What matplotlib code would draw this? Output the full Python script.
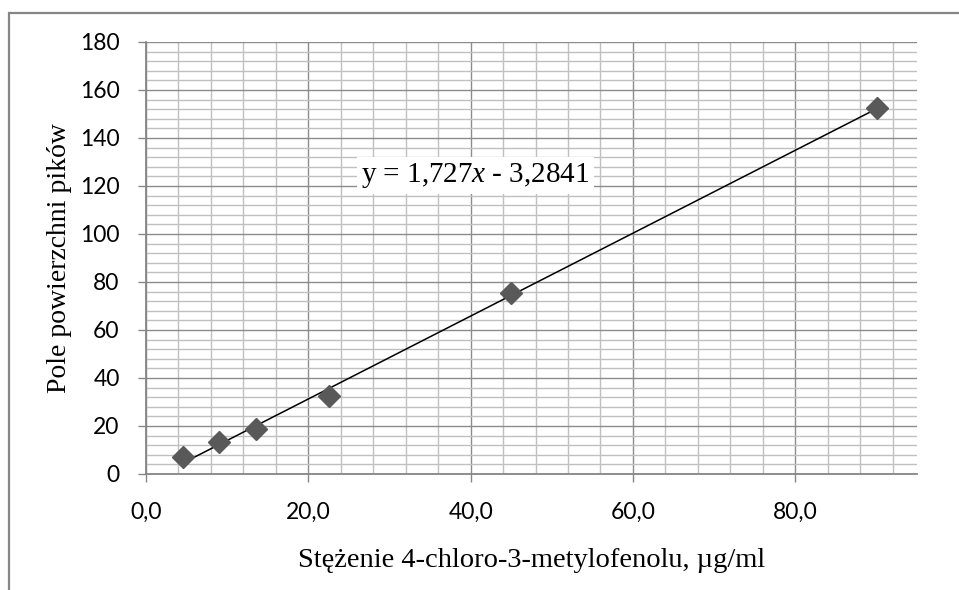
import numpy as np
import matplotlib.pyplot as plt
from matplotlib.patches import Rectangle
from matplotlib.ticker import MultipleLocator, FuncFormatter

# data
stezenie = [4.5, 9.0, 13.5, 22.5, 45.0, 90.1]
pole = [7.2, 13.2, 18.9, 32.7, 75.5, 152.5]
slope = 1.727
intercept = -3.2841
x_ticks = [0, 20, 40, 60, 80]
y_ticks = [0, 20, 40, 60, 80, 100, 120, 140, 160, 180]

GRID_MAJOR = "#8c8c8c"
GRID_MINOR = "#c0c0c0"
AXIS_GRAY = "#868686"

plt.rcParams["mathtext.fontset"] = "custom"
plt.rcParams["mathtext.it"] = "Liberation Serif:italic"
plt.rcParams["mathtext.rm"] = "Liberation Serif"

fig = plt.figure(figsize=(9.59, 5.9), dpi=100)
W, H = 959, 590
ax = fig.add_axes([146 / W, (H - 474) / H, (917 - 146) / W, (474 - 42) / H])

# outer chart border (right/bottom fall outside the picture)
fig.patches.append(Rectangle((8.5 / W, -0.1), 1.2, (H - 12.5) / H + 0.1,
                             transform=fig.transFigure, fill=False,
                             edgecolor=AXIS_GRAY, linewidth=1.6))

ax.set_xlim(0, 95)
ax.set_ylim(0, 180)
ax.xaxis.set_minor_locator(MultipleLocator(4))
ax.yaxis.set_minor_locator(MultipleLocator(4))
ax.set_xticks(x_ticks)
ax.set_yticks(y_ticks)
ax.xaxis.set_major_formatter(FuncFormatter(lambda v, p: f"{v:.1f}".replace(".", ",")))

ax.grid(which="minor", color=GRID_MINOR, linewidth=1.0)
ax.grid(which="major", color=GRID_MAJOR, linewidth=1.0)
ax.set_axisbelow(True)

for s in ["top", "right"]:
    ax.spines[s].set_visible(False)
for s in ["left", "bottom"]:
    ax.spines[s].set_color(AXIS_GRAY)
    ax.spines[s].set_linewidth(1.3)

ax.tick_params(which="major", direction="out", length=6, width=1.0, color=AXIS_GRAY,
               labelsize=16.5, labelcolor="black")
ax.tick_params(axis="y", pad=13)
ax.tick_params(axis="x", pad=14)
ax.tick_params(which="minor", length=0)
for lab in ax.get_xticklabels() + ax.get_yticklabels():
    lab.set_fontfamily("Lato")

xs = np.array([min(stezenie), max(stezenie)])
ax.plot(xs, slope * xs + intercept, color="black", linewidth=1.1, zorder=3)
ax.plot(stezenie, pole, linestyle="none", marker="D", markersize=11,
        color="#595959", zorder=4, clip_on=False)

ax.text(40.6, 124.5, "y = 1,727$x$ - 3,2841", fontsize=21, family="Liberation Serif",
        ha="center", va="center",
        bbox=dict(facecolor="white", edgecolor="none", pad=3))

ax.set_xlabel("Stężenie 4-chloro-3-metylofenolu, µg/ml", family="Liberation Serif",
              fontsize=20.5, labelpad=18)
ax.set_ylabel("Pole powierzchni pików", family="Liberation Serif", fontsize=20, labelpad=6)

fig.savefig("out.png", dpi=100)
